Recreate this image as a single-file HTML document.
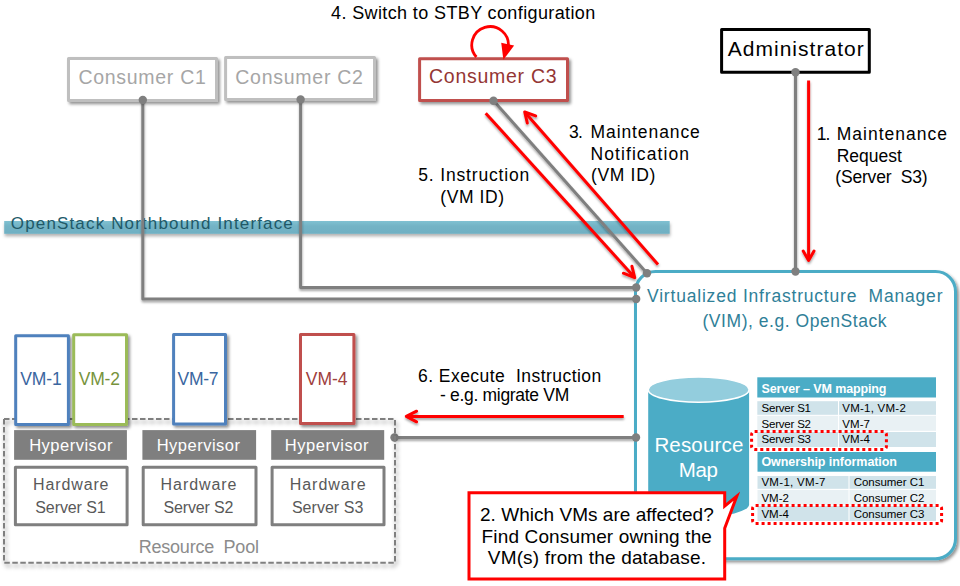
<!DOCTYPE html><html><head><meta charset="utf-8"><style>html,body{margin:0;padding:0;background:#fff;overflow:hidden}svg{display:block}text{font-family:"Liberation Sans",sans-serif;white-space:pre}</style></head><body>
<svg width="960" height="586" viewBox="0 0 960 586">
<defs>
<filter id="sh" x="-20%" y="-20%" width="140%" height="140%"><feDropShadow dx="2" dy="2.2" stdDeviation="1.5" flood-color="#000" flood-opacity="0.42"/></filter>
<filter id="shl" x="-5%" y="-50%" width="110%" height="200%"><feDropShadow dx="0.3" dy="2" stdDeviation="1.3" flood-color="#000" flood-opacity="0.35"/></filter>
<filter id="shp" x="-5%" y="-5%" width="110%" height="115%"><feDropShadow dx="1.5" dy="3" stdDeviation="2" flood-color="#000" flood-opacity="0.4"/></filter>
<filter id="shb" x="-2%" y="-50%" width="104%" height="250%"><feDropShadow dx="0.5" dy="2.5" stdDeviation="1.8" flood-color="#000" flood-opacity="0.3"/></filter>
<linearGradient id="barg" x1="0" y1="0" x2="0" y2="1"><stop offset="0" stop-color="#80c1d2"/><stop offset="0.4" stop-color="#73b3c5"/><stop offset="1" stop-color="#70b0c3"/></linearGradient>
</defs>
<rect x="4.2" y="221" width="665.5" height="12.8" fill="url(#barg)" filter="url(#shb)"/>
<text x="10.80" y="229.2" font-size="17" fill="#215968" textLength="282.01" lengthAdjust="spacing" >OpenStack Northbound Interface</text>
<g filter="url(#shl)" stroke="#7f7f7f" stroke-width="3" fill="none" stroke-linejoin="round">
<polyline points="142.8,100 142.8,299 636,299"/>
<polyline points="300.6,99.5 300.6,287.5 636,287.5"/>
<line x1="493.5" y1="100.7" x2="647" y2="273.2"/>
<line x1="795.5" y1="72.2" x2="795.5" y2="271.5"/>
<line x1="394.5" y1="437.5" x2="636" y2="437.5"/>
</g>
<rect x="68.5" y="58.5" width="148.0" height="42.0" fill="#fff" stroke="#bfbfbf" stroke-width="3" stroke-linejoin="round" filter="url(#sh)"/>
<rect x="225.6" y="57.5" width="148.9" height="42.0" fill="#fff" stroke="#bfbfbf" stroke-width="3" stroke-linejoin="round" filter="url(#sh)"/>
<rect x="419.6" y="58.7" width="147.9" height="41.8" fill="#fff" stroke="#c0504d" stroke-width="3" stroke-linejoin="round" filter="url(#sh)"/>
<rect x="721.6" y="29.4" width="147.7" height="42.8" fill="#fff" stroke="#000" stroke-width="3" stroke-linejoin="round"/>
<text x="78.50" y="83.8" font-size="19.5" fill="#a6a6a6" textLength="127.28" lengthAdjust="spacing" >Consumer C1</text>
<text x="235.30" y="83.8" font-size="19.5" fill="#a6a6a6" textLength="127.68" lengthAdjust="spacing" >Consumer C2</text>
<text x="429.00" y="83.3" font-size="19.5" fill="#943634" textLength="127.58" lengthAdjust="spacing" >Consumer C3</text>
<text x="727.70" y="55.7" font-size="21" fill="#000" textLength="136.02" lengthAdjust="spacing" >Administrator</text>
<rect x="635.5" y="271.5" width="320" height="287.2" rx="20" ry="20" fill="#fff" stroke="#4bacc6" stroke-width="3" filter="url(#sh)"/>
<text x="647.00" y="301.7" font-size="17.5" fill="#2f8098" textLength="295.46" lengthAdjust="spacing" >Virtualized Infrastructure  Manager</text>
<text x="702.50" y="327.0" font-size="17.5" fill="#2f8098" textLength="184.07" lengthAdjust="spacing" >(VIM), e.g. OpenStack</text>
<circle cx="142.8" cy="100" r="4.2" fill="#7f7f7f"/>
<circle cx="300.6" cy="99.5" r="4.2" fill="#7f7f7f"/>
<circle cx="493.5" cy="100.7" r="4.2" fill="#7f7f7f"/>
<circle cx="795.5" cy="72.2" r="4.2" fill="#7f7f7f"/>
<circle cx="647" cy="273.2" r="4.2" fill="#7f7f7f"/>
<circle cx="636.2" cy="287.5" r="4.2" fill="#7f7f7f"/>
<circle cx="636.2" cy="299" r="4.2" fill="#7f7f7f"/>
<circle cx="795.5" cy="271.5" r="4.2" fill="#7f7f7f"/>
<circle cx="394.5" cy="437.5" r="4.2" fill="#7f7f7f"/>
<circle cx="636" cy="437.5" r="4.2" fill="#7f7f7f"/>
<g stroke="#ff0000" stroke-width="3" fill="none" stroke-linecap="round" stroke-linejoin="round" filter="url(#shl)">
<line x1="808.6" y1="80.5" x2="808.6" y2="259" stroke-linecap="butt"/><polyline points="803.2,251 808.6,260.5 814,251"/>
<line x1="658" y1="264.5" x2="526" y2="113.5" stroke-linecap="butt"/><polyline points="527.3,123 524.7,112 535.7,115.9"/>
<line x1="485.7" y1="113.2" x2="633.5" y2="276.2" stroke-linecap="butt"/><polyline points="623.4,273.2 634.7,277.6 631.9,266.2"/>
<line x1="623.7" y1="416.4" x2="408" y2="416.4" stroke-linecap="butt"/><polyline points="416.6,411.2 406.3,416.4 416.6,421.8"/>
</g>
<path d="M476.39,57.03 A18.3,18.3 0 1 1 508.22,47.45" stroke="#ff0000" stroke-width="2.8" fill="none"/>
<polygon points="501.2,42.8 514.1,45.5 503.4,59.8" fill="#ff0000"/>
<text x="331.00" y="18.7" font-size="18" fill="#000" textLength="264.20" lengthAdjust="spacing" >4. Switch to STBY configuration</text>
<text x="569.00" y="137.7" font-size="17.5" fill="#000" textLength="13.98" lengthAdjust="spacing" >3.</text>
<text x="590.50" y="137.7" font-size="17.5" fill="#000" textLength="109.32" lengthAdjust="spacing" >Maintenance</text>
<text x="590.50" y="159.5" font-size="17.5" fill="#000" textLength="98.43" lengthAdjust="spacing" >Notification</text>
<text x="591.00" y="181.4" font-size="17.5" fill="#000" textLength="64.28" lengthAdjust="spacing" >(VM ID)</text>
<text x="418.30" y="180.8" font-size="17.5" fill="#000" textLength="110.90" lengthAdjust="spacing" >5. Instruction</text>
<text x="440.20" y="203.0" font-size="17.5" fill="#000" textLength="63.98" lengthAdjust="spacing" >(VM ID)</text>
<text x="816.70" y="140.0" font-size="17.5" fill="#000" textLength="13.78" lengthAdjust="spacing" >1.</text>
<text x="836.70" y="140.0" font-size="17.5" fill="#000" textLength="110.32" lengthAdjust="spacing" >Maintenance</text>
<text x="836.70" y="161.7" font-size="17.5" fill="#000" textLength="65.29" lengthAdjust="spacing" >Request</text>
<text x="835.30" y="183.3" font-size="17.5" fill="#000" textLength="92.21" lengthAdjust="spacing" >(Server  S3)</text>
<text x="418.00" y="382.0" font-size="17.5" fill="#000" textLength="183.23" lengthAdjust="spacing" >6. Execute  Instruction</text>
<text x="440.00" y="401.2" font-size="17.5" fill="#000" textLength="129.23" lengthAdjust="spacing" >- e.g. migrate VM</text>
<path d="M648.2,389.65 L648.2,504.5 A50.44999999999999,12.6 0 0 0 749.1,504.5 L749.1,389.65 Z" fill="#4bacc6"/>
<ellipse cx="698.6500000000001" cy="389.65" rx="50.44999999999999" ry="12.6" fill="#93cddd" stroke="#fff" stroke-width="1.5"/>
<text x="654.40" y="452.0" font-size="20.5" fill="#fff" textLength="88.90" lengthAdjust="spacing" >Resource</text>
<text x="678.80" y="477.0" font-size="20.5" fill="#fff" textLength="39.01" lengthAdjust="spacing" >Map</text>
<rect x="757.3" y="377.3" width="178.7" height="20.2" fill="#4bacc6"/>
<rect x="757.3" y="401.2" width="178.7" height="13.6" fill="#d0e3ea"/>
<rect x="757.3" y="415.8" width="178.7" height="15" fill="#e9f1f4"/>
<rect x="757.3" y="432" width="178.7" height="15" fill="#d0e3ea"/>
<line x1="838.5" y1="401" x2="838.5" y2="447" stroke="#fff" stroke-width="1"/>
<text x="761.50" y="392.9" font-size="12.5" fill="#fff" font-weight="bold" textLength="125.00" lengthAdjust="spacing" >Server – VM mapping</text>
<text x="761.50" y="411.7" font-size="11.5" fill="#000" textLength="49.52" lengthAdjust="spacing" >Server S1</text>
<text x="842.30" y="411.7" font-size="11.5" fill="#000" textLength="63.49" lengthAdjust="spacing" >VM-1, VM-2</text>
<text x="761.50" y="427.7" font-size="11.5" fill="#000" textLength="49.52" lengthAdjust="spacing" >Server S2</text>
<text x="842.30" y="427.7" font-size="11.5" fill="#000" textLength="27.69" lengthAdjust="spacing" >VM-7</text>
<text x="761.50" y="443.3" font-size="11.5" fill="#000" textLength="49.52" lengthAdjust="spacing" >Server S3</text>
<text x="842.30" y="443.3" font-size="11.5" fill="#000" textLength="27.69" lengthAdjust="spacing" >VM-4</text>
<rect x="757.5" y="452" width="178.5" height="19.7" fill="#4bacc6"/>
<rect x="757.5" y="476" width="178.5" height="12.8" fill="#d0e3ea"/>
<rect x="757.5" y="490" width="178.5" height="14.5" fill="#e9f1f4"/>
<rect x="757.5" y="506" width="178.5" height="15" fill="#d0e3ea"/>
<line x1="849" y1="476" x2="849" y2="521" stroke="#fff" stroke-width="1"/>
<text x="761.40" y="466.4" font-size="12.5" fill="#fff" font-weight="bold" textLength="135.60" lengthAdjust="spacing" >Ownership information</text>
<text x="761.40" y="486.0" font-size="11.5" fill="#000" textLength="64.09" lengthAdjust="spacing" >VM-1, VM-7</text>
<text x="853.70" y="486.0" font-size="11.5" fill="#000" textLength="70.69" lengthAdjust="spacing" >Consumer C1</text>
<text x="761.40" y="501.9" font-size="11.5" fill="#000" textLength="27.59" lengthAdjust="spacing" >VM-2</text>
<text x="853.70" y="501.9" font-size="11.5" fill="#000" textLength="70.69" lengthAdjust="spacing" >Consumer C2</text>
<text x="761.40" y="517.8" font-size="11.5" fill="#000" textLength="27.59" lengthAdjust="spacing" >VM-4</text>
<text x="853.70" y="517.8" font-size="11.5" fill="#000" textLength="70.69" lengthAdjust="spacing" >Consumer C3</text>
<rect x="751.6" y="431.6" width="134.8" height="17.9" rx="3" fill="none" stroke="#ff0000" stroke-width="3" stroke-dasharray="3 3"/>
<rect x="752.6" y="505.6" width="189" height="17.8" rx="3" fill="none" stroke="#ff0000" stroke-width="3" stroke-dasharray="3 3"/>
<path d="M469,492.8 L724.7,492.8 L724.7,506.1 L736.8,496.2 L724.7,528.2 L724.7,579.1 L469,579.1 Z" fill="#fff" stroke="#ff0000" stroke-width="3" stroke-linejoin="miter"/>
<text x="480.00" y="520.6" font-size="19" fill="#000" textLength="233.76" lengthAdjust="spacing" >2. Which VMs are affected?</text>
<text x="481.60" y="542.5" font-size="19" fill="#000" textLength="230.32" lengthAdjust="spacing" >Find Consumer owning the</text>
<text x="487.80" y="563.8" font-size="19" fill="#000" textLength="218.15" lengthAdjust="spacing" >VM(s) from the database.</text>
<rect x="4" y="419" width="391" height="143.8" fill="none" stroke="#7f7f7f" stroke-width="2" stroke-dasharray="5.5 2.5" filter="url(#shp)"/>
<rect x="15.7" y="335.7" width="52.7" height="88.7" fill="#fff" stroke="#4f81bd" stroke-width="3" stroke-linejoin="round" filter="url(#sh)"/>
<rect x="73.7" y="334.7" width="52.8" height="89.8" fill="#fff" stroke="#9bbb59" stroke-width="3" stroke-linejoin="round" filter="url(#sh)"/>
<rect x="173.6" y="334.6" width="51.9" height="89.4" fill="#fff" stroke="#4f81bd" stroke-width="3" stroke-linejoin="round" filter="url(#sh)"/>
<rect x="300.5" y="334.4" width="53.4" height="89.1" fill="#fff" stroke="#c0504d" stroke-width="3" stroke-linejoin="round" filter="url(#sh)"/>
<text x="20.30" y="385.1" font-size="17.5" fill="#3a66a0" textLength="41.49" lengthAdjust="spacing" >VM-1</text>
<text x="78.70" y="385.1" font-size="17.5" fill="#77933c" textLength="41.29" lengthAdjust="spacing" >VM-2</text>
<text x="177.50" y="385.1" font-size="17.5" fill="#3a66a0" textLength="40.99" lengthAdjust="spacing" >VM-7</text>
<text x="305.80" y="385.1" font-size="17.5" fill="#a0403d" textLength="41.59" lengthAdjust="spacing" >VM-4</text>
<rect x="14.1" y="430.1" width="112.8" height="29.7" fill="#7f7f7f"/>
<text x="29.20" y="450.6" font-size="16.5" fill="#fff" textLength="83.28" lengthAdjust="spacing" >Hypervisor</text>
<rect x="142.4" y="430.1" width="113.7" height="29.7" fill="#7f7f7f"/>
<text x="156.70" y="450.6" font-size="16.5" fill="#fff" textLength="83.28" lengthAdjust="spacing" >Hypervisor</text>
<rect x="271.2" y="430.1" width="113.0" height="29.7" fill="#7f7f7f"/>
<text x="284.80" y="450.6" font-size="16.5" fill="#fff" textLength="83.58" lengthAdjust="spacing" >Hypervisor</text>
<rect x="15.4" y="467.3" width="111.7" height="57.5" fill="#fff" stroke="#7f7f7f" stroke-width="3" stroke-linejoin="round"/>
<text x="33.10" y="489.7" font-size="16" fill="#595959" textLength="75.40" lengthAdjust="spacing" >Hardware</text>
<text x="35.30" y="512.7" font-size="16" fill="#595959" textLength="70.32" lengthAdjust="spacing" >Server S1</text>
<rect x="143.2" y="467.3" width="112.8" height="57.5" fill="#fff" stroke="#7f7f7f" stroke-width="3" stroke-linejoin="round"/>
<text x="160.60" y="489.7" font-size="16" fill="#595959" textLength="75.90" lengthAdjust="spacing" >Hardware</text>
<text x="163.50" y="512.7" font-size="16" fill="#595959" textLength="70.02" lengthAdjust="spacing" >Server S2</text>
<rect x="272.1" y="467.3" width="111.9" height="57.5" fill="#fff" stroke="#7f7f7f" stroke-width="3" stroke-linejoin="round"/>
<text x="289.80" y="489.7" font-size="16" fill="#595959" textLength="75.90" lengthAdjust="spacing" >Hardware</text>
<text x="291.90" y="512.7" font-size="16" fill="#595959" textLength="71.42" lengthAdjust="spacing" >Server S3</text>
<text x="138.75" y="552.7" font-size="18" fill="#8c8c8c" textLength="120.19" lengthAdjust="spacing" >Resource  Pool</text>
</svg></body></html>
